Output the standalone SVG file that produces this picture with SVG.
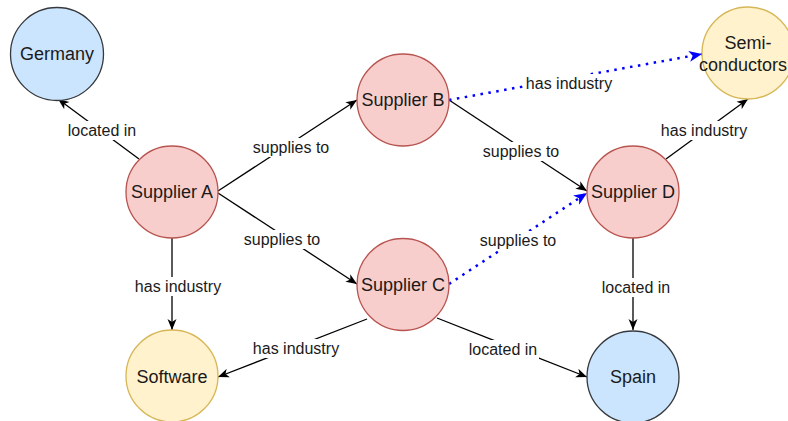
<svg xmlns="http://www.w3.org/2000/svg" width="788" height="421" viewBox="0 0 788 421">
<style>
.node text{font-family:"Liberation Sans",Arial,sans-serif;font-size:18px;fill:#1a1a1a;text-anchor:middle}
.red{fill:#f8cecc;stroke:#b85450;stroke-width:1.3}
.blue{fill:#cce5ff;stroke:#36393d;stroke-width:1.3}
.yel{fill:#fff2cc;stroke:#d6b656;stroke-width:1.3}
.e{fill:none;stroke:#000;stroke-width:1.3}
.d{fill:none;stroke:#0000ff;stroke-width:2.5;stroke-dasharray:2.5 5.5}
.lbl rect{fill:#fff}
.lbl text{font-family:"Liberation Sans",Arial,sans-serif;font-size:16px;fill:#1a1a1a;text-anchor:middle}
</style>
<defs>
<marker id="ab" markerUnits="userSpaceOnUse" markerWidth="12" markerHeight="10" refX="11" refY="5" orient="auto"><path d="M0,0.5 L11,5 L0,9.5 L3,5 Z" fill="#000"/></marker>
<marker id="ablue" markerUnits="userSpaceOnUse" markerWidth="14" markerHeight="12" refX="13" refY="6" orient="auto"><path d="M0,0.5 L13,6 L0,11.5 L3.5,6 Z" fill="#0000ff"/></marker>
</defs>
<rect width="788" height="421" fill="#fff"/>
<g id="connectors">
<line class="e" x1="139" y1="159" x2="58" y2="99" marker-end="url(#ab)"/>
<line class="e" x1="218" y1="191" x2="357" y2="100" marker-end="url(#ab)"/>
<line class="e" x1="218" y1="193" x2="357" y2="284" marker-end="url(#ab)"/>
<line class="e" x1="172" y1="238" x2="172" y2="330" marker-end="url(#ab)"/>
<line class="e" x1="449" y1="100" x2="587" y2="191" marker-end="url(#ab)"/>
<line class="d" x1="449" y1="100" x2="702" y2="54" marker-end="url(#ablue)"/>
<line class="d" x1="449" y1="284" x2="587" y2="193" marker-end="url(#ablue)"/>
<line class="e" x1="367" y1="319" x2="218" y2="377" marker-end="url(#ab)"/>
<line class="e" x1="437" y1="318" x2="587" y2="377" marker-end="url(#ab)"/>
<line class="e" x1="666" y1="159" x2="748" y2="99" marker-end="url(#ab)"/>
<line class="e" x1="633" y1="238" x2="633" y2="330" marker-end="url(#ab)"/>
<g class="lbl">
<rect x="66" y="121" width="72" height="19"/><text x="102" y="136">located in</text>
<rect x="251" y="138" width="79" height="19"/><text x="291" y="153">supplies to</text>
<rect x="242" y="230" width="79" height="19"/><text x="282" y="245">supplies to</text>
<rect x="134" y="277" width="88" height="19"/><text x="178" y="292">has industry</text>
<rect x="481" y="142" width="79" height="19"/><text x="521" y="157">supplies to</text>
<rect x="525" y="74" width="88" height="19"/><text x="569" y="89">has industry</text>
<rect x="478" y="231" width="79" height="19"/><text x="518" y="246">supplies to</text>
<rect x="252" y="339" width="88" height="19"/><text x="296" y="354">has industry</text>
<rect x="467" y="340" width="72" height="19"/><text x="503" y="355">located in</text>
<rect x="660" y="121" width="88" height="19"/><text x="704" y="136">has industry</text>
<rect x="600" y="278" width="72" height="19"/><text x="636" y="293">located in</text>
</g>
</g>
<g id="germany" class="node"><circle class="blue" cx="57" cy="54" r="46.5"/><text x="57" y="60">Germany</text></g>
<g id="supplierA" class="node"><circle class="red" cx="172" cy="192" r="46"/><text x="172" y="198">Supplier A</text></g>
<g id="supplierB" class="node"><circle class="red" cx="403" cy="100" r="46"/><text x="403" y="106">Supplier B</text></g>
<g id="supplierC" class="node"><circle class="red" cx="403" cy="284.5" r="46"/><text x="403" y="291">Supplier C</text></g>
<g id="supplierD" class="node"><circle class="red" cx="633" cy="192" r="46"/><text x="633" y="198">Supplier D</text></g>
<g id="semiconductors" class="node"><circle class="yel" cx="748" cy="53" r="46"/><text x="748" y="49">Semi-</text><text x="743" y="71">conductors</text></g>
<g id="software" class="node"><circle class="yel" cx="172" cy="376" r="46"/><text x="172" y="383">Software</text></g>
<g id="spain" class="node"><circle class="blue" cx="633" cy="377" r="46"/><text x="633" y="383">Spain</text></g>
</svg>
